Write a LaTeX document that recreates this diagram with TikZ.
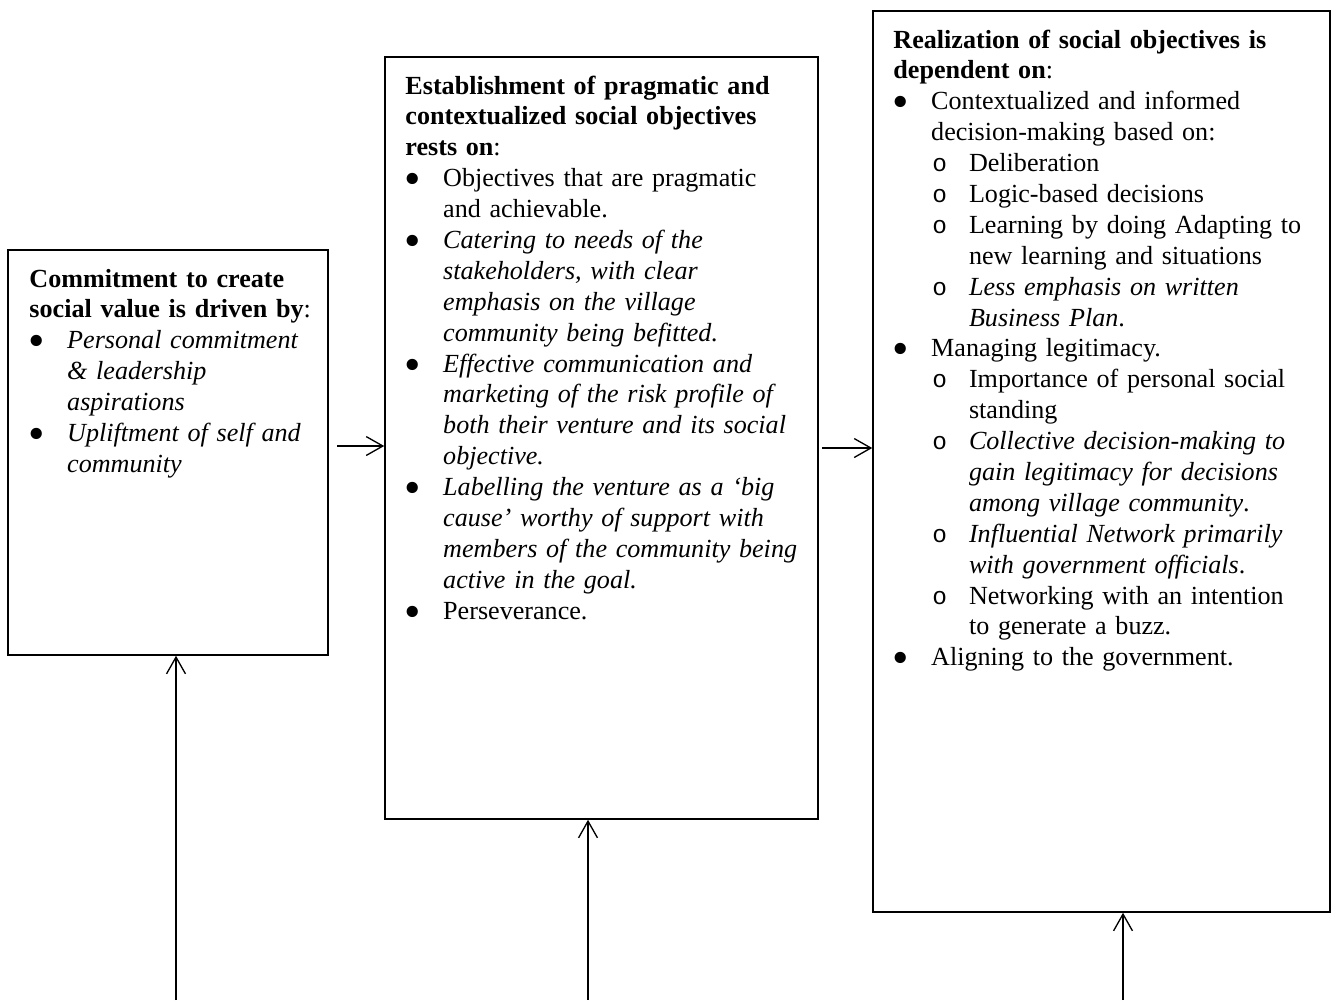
\documentclass[tikz,border=0pt]{standalone}
\usepackage{fontspec}
\usepackage{graphicx}
\setmainfont{Liberation Serif}
\newfontfamily\monofont{Liberation Mono}
\usetikzlibrary{arrows.meta,fit}
\newlength\indA
\setlength\indA{17pt}
\newcommand{\bigbul}{\raisebox{-3.6pt}{\scalebox{1.8}{\textbullet}}}
\newcommand{\bitem}[1]{\par\hangindent=\indA\hangafter=1\noindent\makebox[\indA][l]{\hspace{-0.5pt}\bigbul}{#1}}
\newcommand{\sitem}[1]{\par\hangindent=2\indA\hangafter=1\noindent\hspace*{\indA}\makebox[\indA][l]{\hspace{0.5pt}{\monofont\fontsize{11pt}{13pt}\selectfont o}}{#1}}
\newcommand{\hdr}[1]{\noindent #1}
\tikzset{
  boxst/.style={draw, line width=0.7pt, inner sep=0pt},
  txt/.style={anchor=base west, inner sep=0pt, align=left, font=\fontsize{11.75pt}{13.9pt}\selectfont},
  arr/.style={-{Straight Barb[length=7.5pt,width=8.5pt]}, line width=0.6pt},
}
\begin{document}
\begin{tikzpicture}[x=0.45pt, y=-0.45pt]
\useasboundingbox (0,0) rectangle (1334,1000);
% box corners
\coordinate (b1a) at (8,250);   \coordinate (b1b) at (328,655);
\coordinate (b2a) at (385,57);  \coordinate (b2b) at (818,819);
\coordinate (b3a) at (873,11);  \coordinate (b3b) at (1330,912);
\node[boxst, fit=(b1a)(b1b)] (b1) {};
\node[boxst, fit=(b2a)(b2b)] (b2) {};
\node[boxst, fit=(b3a)(b3b)] (b3) {};
% texts
\node[txt, text width=136pt] (t1) at (29,287) {%
\hdr{\textbf{Commitment to create\newline social value is driven by}:}
\bitem{\itshape Personal commitment\newline \& leadership\newline aspirations}
\bitem{\itshape Upliftment of self and\newline community}\par};
\node[txt, text width=186pt] (t2) at (405,94) {%
\hdr{\textbf{Establishment of pragmatic and\newline contextualized social objectives\newline rests on}:}
\bitem{Objectives that are pragmatic\newline and achievable.}
\bitem{\itshape Catering to needs of the\newline stakeholders, with clear\newline emphasis on the village\newline community being befitted.}
\bitem{\itshape Effective communication and\newline marketing of the risk profile of\newline both their venture and its social\newline objective.}
\bitem{\itshape Labelling the venture as a ‘big\newline cause’ worthy of support with\newline members of the community being\newline active in the goal.}
\bitem{Perseverance.}\par};
\node[txt, text width=196pt] (t3) at (893,48) {%
\hdr{\textbf{Realization of social objectives is\newline dependent on}:}
\bitem{Contextualized and informed\newline decision-making based on:}
\sitem{Deliberation}
\sitem{Logic-based decisions}
\sitem{Learning by doing Adapting to\newline new learning and situations}
\sitem{\textit{Less emphasis on written\newline Business Plan}.}
\bitem{Managing legitimacy.}
\sitem{Importance of personal social\newline standing}
\sitem{\textit{Collective decision-making to\newline gain legitimacy for decisions\newline among village community}.}
\sitem{\textit{Influential Network primarily\newline with government officials}.}
\sitem{Networking with an intention\newline to generate a buzz.}
\bitem{Aligning to the government.}\par};
% connectors
\coordinate (s1) at (337,446);
\coordinate (s2) at (822,448);
\draw[arr] (s1) -- (s1 -| b2.west);
\draw[arr] (s2) -- (s2 -| b3.west);
\coordinate (v1) at (176,1000);
\coordinate (v2) at (588,1000);
\coordinate (v3) at (1123,1000);
\draw[arr] (v1) -- (v1 |- b1.south);
\draw[arr] (v2) -- (v2 |- b2.south);
\draw[arr] (v3) -- (v3 |- b3.south);
\end{tikzpicture}
\end{document}
